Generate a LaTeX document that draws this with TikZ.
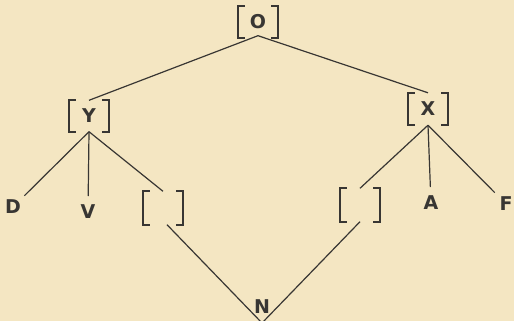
\documentclass[tikz,border=0pt]{standalone}
\usepackage{fontspec}
\setmainfont{DejaVu Sans}
\definecolor{paper}{HTML}{F4E6C2}
\definecolor{ink}{HTML}{383633}
\tikzset{
  box/.style={minimum width=40pt,minimum height=31pt,inner sep=0pt,font=\bfseries\fontsize{19}{19}\selectfont,text=ink},
  lab/.style={inner sep=0pt,font=\bfseries\fontsize{19}{19}\selectfont,text=ink},
  brk/.style={draw=ink,line width=1.8pt},
  edge/.style={draw=ink,line width=1.2pt},
  toleaf/.style={edge,shorten >=16pt}
}
\newcommand\brkt[1]{%
  \draw[brk] ([xshift=7pt]#1.north west) -- (#1.north west) -- (#1.south west) -- ++(7pt,0);
  \draw[brk] ([xshift=-7pt]#1.north east) -- (#1.north east) -- (#1.south east) -- ++(-7pt,0);}
\begin{document}
\begin{tikzpicture}[x=1pt,y=-1pt]
\fill[paper] (0,0) rectangle (514,321);
\useasboundingbox (0,0) rectangle (514,321);
\node[box] (O) at (258,22) {O};
\node[box] (Y) at (89,116) {Y};
\node[box,minimum height=32pt] (X) at (428,109) {X};
\node[box,minimum height=33pt] (L) at (163,208) {};
\node[box,minimum height=33pt] (R) at (360,205) {};
\node[lab] (D) at (13,207) {D};
\node[lab] (V) at (88,212) {V};
\node[lab] (A) at (431,203) {A};
\node[lab] (F) at (506,204) {F};
\node[lab] (N) at (262,307) {N};
\brkt{O}\brkt{Y}\brkt{X}\brkt{L}\brkt{R}
\draw[edge] ([yshift=2pt]O.south) -- (Y.north);
\draw[edge] ([yshift=2pt]O.south) -- (X.north);
\draw[toleaf] (Y.south) -- (D.center);
\draw[toleaf] (Y.south) -- (V.center);
\draw[edge] (Y.south) -- (L.north);
\draw[edge] ([xshift=4pt]L.south) -- ([yshift=-16pt]N.center);
\draw[edge] (R.south) -- ([yshift=-16pt]N.center);
\draw[edge] (X.south) -- (R.north);
\draw[toleaf] (X.south) -- (A.center);
\draw[toleaf] (X.south) -- (F.center);
\end{tikzpicture}
\end{document}
